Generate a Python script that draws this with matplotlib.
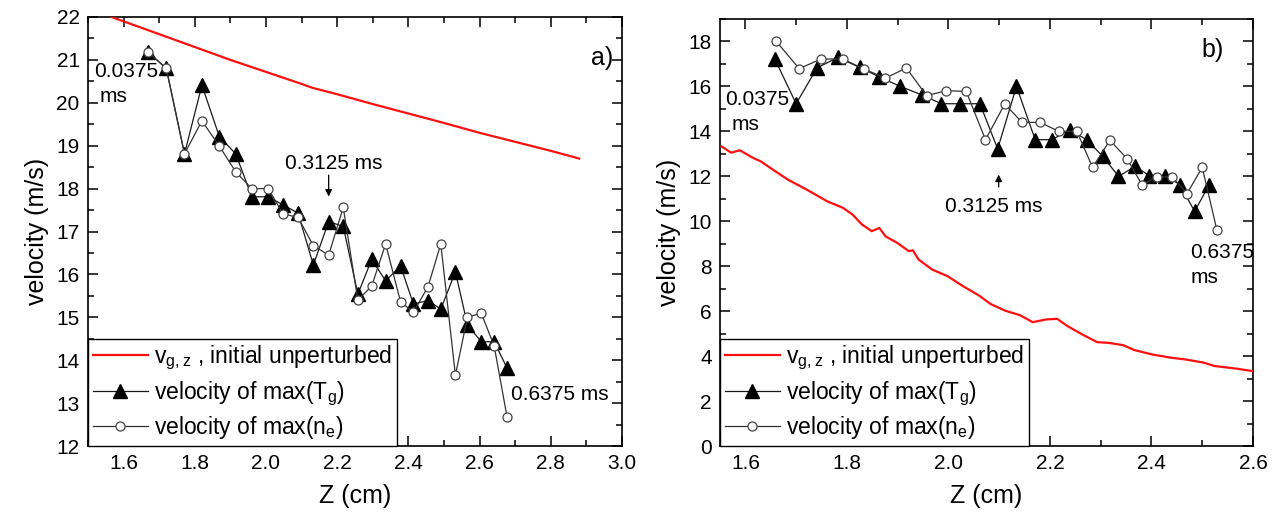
import matplotlib
matplotlib.use("Agg")
import matplotlib.pyplot as plt
from matplotlib.ticker import MultipleLocator

plt.rcParams['font.family'] = ['Liberation Sans', 'DejaVu Sans']
plt.rcParams['mathtext.fontset'] = 'custom'
plt.rcParams['mathtext.rm'] = 'Liberation Sans'

# ---------------- panel a) data ----------------
a_red_z = [1.566, 1.7, 1.8, 1.9, 2.0, 2.1, 2.13, 2.2, 2.3, 2.4, 2.5, 2.6, 2.7, 2.8, 2.88]
a_red_v = [22.0, 21.6, 21.3, 21.0, 20.72, 20.44, 20.35, 20.2, 19.97, 19.75, 19.53, 19.3, 19.09, 18.88, 18.7]

a_z = [1.668, 1.720, 1.771, 1.820, 1.869, 1.915, 1.960, 2.006, 2.048, 2.090, 2.133, 2.176, 2.217,
       2.258, 2.297, 2.336, 2.378, 2.414, 2.455, 2.491, 2.532, 2.566, 2.605, 2.641, 2.677]
a_tg = [21.19, 20.80, 18.81, 20.41, 19.21, 18.81, 17.81, 17.81, 17.62, 17.43, 16.22, 17.23, 17.12,
        15.54, 16.35, 15.85, 16.20, 15.31, 15.39, 15.19, 16.06, 14.82, 14.43, 14.43, 13.82]
a_ne = [21.19, 20.80, 18.81, 19.58, 18.99, 18.39, 18.00, 18.00, 17.41, 17.33, 16.67, 16.45, 17.56,
        15.40, 15.73, 16.71, 15.36, 15.12, 15.71, 16.71, 13.65, 15.01, 15.09, 14.33, 12.68]

# ---------------- panel b) data ----------------
b_red_z = [1.553, 1.572, 1.589, 1.615, 1.630, 1.654, 1.684, 1.715, 1.738, 1.761, 1.792, 1.811, 1.830,
           1.849, 1.864, 1.876, 1.899, 1.922, 1.930, 1.941, 1.968, 1.998, 2.029, 2.060, 2.083,
           2.112, 2.141, 2.166, 2.192, 2.214, 2.235, 2.264, 2.293, 2.315, 2.344, 2.366, 2.402,
           2.438, 2.467, 2.503, 2.524, 2.568, 2.600]
b_red_v = [13.33, 13.05, 13.16, 12.82, 12.67, 12.30, 11.85, 11.48, 11.19, 10.89, 10.60, 10.30, 9.85,
           9.56, 9.70, 9.33, 9.04, 8.67, 8.71, 8.30, 7.85, 7.56, 7.11, 6.70, 6.32,
           6.02, 5.82, 5.51, 5.63, 5.66, 5.33, 4.96, 4.62, 4.59, 4.49, 4.27, 4.07,
           3.93, 3.85, 3.71, 3.56, 3.44, 3.33]

b_z_tg = [1.658, 1.700, 1.741, 1.782, 1.825, 1.864, 1.905, 1.947, 1.986, 2.023, 2.062, 2.097, 2.134,
          2.171, 2.204, 2.239, 2.272, 2.304, 2.335, 2.368, 2.396, 2.427, 2.456, 2.485, 2.513]
b_tg = [17.22, 15.23, 16.82, 17.29, 16.85, 16.42, 16.00, 15.63, 15.23, 15.23, 15.23, 13.22, 16.00,
        13.63, 13.63, 14.07, 13.63, 12.89, 12.00, 12.44, 12.03, 12.03, 11.63, 10.44, 11.60]
b_z_ne = [1.661, 1.706, 1.749, 1.792, 1.834, 1.876, 1.917, 1.957, 1.996, 2.035, 2.073, 2.111, 2.145,
          2.181, 2.217, 2.253, 2.284, 2.318, 2.352, 2.381, 2.411, 2.441, 2.470, 2.500, 2.529]
b_ne = [18.00, 16.79, 17.22, 17.22, 16.77, 16.37, 16.82, 15.59, 15.81, 15.78, 13.63, 15.22, 14.40,
        14.40, 14.00, 14.00, 12.40, 13.60, 12.79, 11.63, 11.97, 11.97, 11.23, 12.40, 9.60]

label_red = r"$\mathregular{v_{g,z}}$ , initial unperturbed"
label_tg = r"velocity of max(T$\mathregular{_g}$)"
label_ne = r"velocity of max(n$\mathregular{_e}$)"

fig = plt.figure(figsize=(12.77, 5.21), dpi=100)
ax1 = fig.add_axes([88/1277, 1-446/521, (622-88)/1277, (446-17)/521])
ax2 = fig.add_axes([720/1277, 1-446/521, (1253-720)/1277, (446-19)/521])

FS_TICK = 15
FS_LAB = 18
FS_LEG = 16.5
FS_ANN = 15


def draw(ax, rz, rv, zt, vt, zn, vn):
    ax.plot(rz, rv, color='#ff1010', lw=1.6, label=label_red, zorder=3)
    ax.plot(zt, vt, color='#1a1a1a', lw=0.9, marker='^', ms=9.5, mfc='black', mec='black',
            label=label_tg, zorder=4)
    ax.plot(zn, vn, color='#333333', lw=0.9, marker='o', ms=6.5, mfc='white', mec='#444444',
            mew=0.9, label=label_ne, zorder=5)
    for s in ax.spines.values():
        s.set_linewidth(1.2)
    ax.tick_params(which='both', direction='in', top=True, right=True, labelsize=FS_TICK,
                   width=1.1, pad=6)
    ax.tick_params(which='major', length=7)
    ax.tick_params(which='minor', length=4)
    ax.set_xlabel('Z (cm)', fontsize=FS_LAB, labelpad=8)
    ax.set_ylabel('velocity (m/s)', fontsize=FS_LAB, labelpad=5)
    leg = ax.legend(loc='lower left', bbox_to_anchor=(0, 0), borderaxespad=0, fontsize=FS_LEG,
                    fancybox=False, edgecolor='black', framealpha=1, handlelength=2.4,
                    handletextpad=0.3, borderpad=0.2, labelspacing=0.3)
    leg.get_frame().set_linewidth(1.0)


draw(ax1, a_red_z, a_red_v, a_z, a_tg, a_z, a_ne)
ax1.set_xlim(1.5, 3.0)
ax1.set_ylim(12, 22)
ax1.xaxis.set_major_locator(MultipleLocator(0.2))
ax1.xaxis.set_minor_locator(MultipleLocator(0.1))
ax1.yaxis.set_major_locator(MultipleLocator(1))
ax1.yaxis.set_minor_locator(MultipleLocator(0.5))
ax1.text(1.518, 20.73, '0.0375', fontsize=FS_ANN, va='center', ha='left')
ax1.text(1.533, 20.14, 'ms', fontsize=FS_ANN, va='center', ha='left')
ax1.text(2.19, 18.59, '0.3125 ms', fontsize=FS_ANN, va='center', ha='center')
ax1.annotate('', xy=(2.176, 17.75), xytext=(2.176, 18.38),
             arrowprops=dict(arrowstyle='-|>', color='black', lw=0.9, mutation_scale=10))
ax1.text(2.687, 13.19, '0.6375 ms', fontsize=FS_ANN, va='center', ha='left')
ax1.text(2.944, 21.04, 'a)', fontsize=FS_LAB, va='center', ha='center')

draw(ax2, b_red_z, b_red_v, b_z_tg, b_tg, b_z_ne, b_ne)
ax2.set_xlim(1.55, 2.6)
ax2.set_ylim(0, 19)
ax2.xaxis.set_major_locator(MultipleLocator(0.2))
ax2.xaxis.set_minor_locator(MultipleLocator(0.1))
ax2.yaxis.set_major_locator(MultipleLocator(2))
ax2.yaxis.set_minor_locator(MultipleLocator(1))
ax2.text(1.561, 15.4, '0.0375', fontsize=FS_ANN, va='center', ha='left')
ax2.text(1.573, 14.3, 'ms', fontsize=FS_ANN, va='center', ha='left')
ax2.text(2.089, 10.67, '0.3125 ms', fontsize=FS_ANN, va='center', ha='center')
ax2.annotate('', xy=(2.099, 12.2), xytext=(2.099, 11.4),
             arrowprops=dict(arrowstyle='-|>', color='black', lw=0.9, mutation_scale=10))
ax2.text(2.477, 8.6, '0.6375', fontsize=FS_ANN, va='center', ha='left')
ax2.text(2.505, 7.5, 'ms', fontsize=FS_ANN, va='center', ha='center')
ax2.text(2.52, 17.63, 'b)', fontsize=FS_LAB, va='center', ha='center')

fig.savefig('out.png', dpi=100)
